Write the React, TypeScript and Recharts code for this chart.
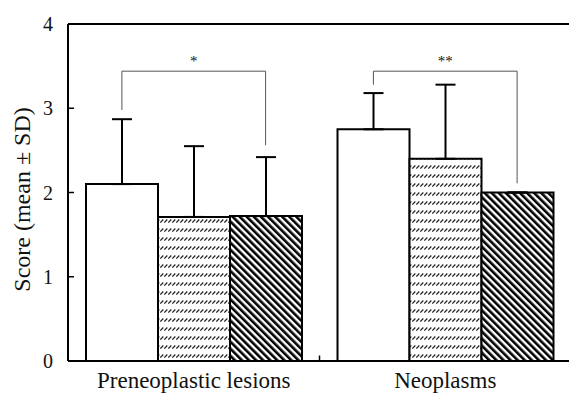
import React from 'react';
import { BarChart, Bar, XAxis, YAxis, ErrorBar, ReferenceLine } from 'recharts';

const categories = ['Preneoplastic lesions', 'Neoplasms'];
const groupPos = [0.5, 1.5];
const controlMean = [2.1, 2.75];
const controlSd = [0.77, 0.43];
const midMean = [1.71, 2.4];
const midSd = [0.84, 0.88];
const highMean = [1.72, 2.0];
const highSd = [0.7, 0];
const yTicks = [0, 1, 2, 3, 4];

// significance brackets, x on a 0..2 numeric axis (one unit per group)
const bracketLeft = [0.2143, 1.2143];
const bracketRight = [0.7857, 1.7857];
const bracketTop = [3.44, 3.44];
const leftFoot = [2.98, 3.28];
const rightFoot = [2.56, 2.11];
const stars = ['*', '**'];

const FONT = 'Liberation Serif, Times New Roman, serif';

const data = categories.map((name, i) => ({
  name,
  pos: groupPos[i],
  control: controlMean[i],
  controlErr: [0, controlSd[i]],
  mid: midMean[i],
  midErr: [0, midSd[i]],
  high: highMean[i],
  highErr: [0, highSd[i]],
}));

const YTick = (props: any) => {
  const { x, y, payload } = props;
  const axisX = x + 15;
  return (
    <g>
      {payload.value > 0 && payload.value < 4 && (
        <line x1={axisX} x2={axisX + 6} y1={y} y2={y} stroke="#000" strokeWidth={1.5} />
      )}
      <text x={x} y={y} textAnchor="end" dominantBaseline="central" style={{ fontFamily: FONT }} fontSize={20} fill="#111">
        {payload.value}
      </text>
    </g>
  );
};

const XTick = (props: any) => {
  const { x, y, payload } = props;
  return (
    <text x={x} y={y + 25} textAnchor="middle" style={{ fontFamily: FONT }} fontSize={23} fill="#111">
      {payload.value}
    </text>
  );
};

const YLabel = (props: any) => {
  const { viewBox } = props;
  const cx = 22;
  const cy = viewBox.y + viewBox.height / 2 + 7;
  return (
    <text
      x={cx}
      y={cy}
      transform={`rotate(-90, ${cx}, ${cy})`}
      textAnchor="middle"
      dominantBaseline="central"
      style={{ fontFamily: FONT }}
      fontSize={24}
      fill="#111"
    >
      Score (mean ± SD)
    </text>
  );
};

const App: React.FC = () => {
  return (
    <div style={{ position: 'absolute', left: 0, top: 0, width: 569, height: 393, overflow: 'hidden', background: '#fff' }}>
      <BarChart
        width={579}
        height={393}
        data={data}
        margin={{ top: 24, right: 8, bottom: 0, left: 0 }}
        barCategoryGap={18}
        barGap={0}
      >
        <defs>
          <pattern id="dashRows" width="4" height="9" patternUnits="userSpaceOnUse">
            <rect width="4" height="9" fill="#fff" />
            <path d="M0.3 6.5 L3.3 3.5" stroke="#222" strokeWidth={1.2} />
          </pattern>
          <pattern id="diag" width="5" height="5" patternUnits="userSpaceOnUse" patternTransform="rotate(-45)">
            <rect width="5" height="5" fill="#fff" />
            <rect width="2.6" height="5" fill="#000" />
          </pattern>
        </defs>
        <XAxis
          dataKey="name"
          height={32}
          axisLine={{ stroke: '#000', strokeWidth: 2 }}
          tickLine={false}
          tickSize={0}
          tick={<XTick />}
        />
        <XAxis xAxisId="num" dataKey="pos" type="number" domain={[0, 2]} ticks={[0, 1, 2]} hide allowDataOverflow />
        <YAxis
          width={68}
          domain={[0, 4]}
          ticks={yTicks}
          axisLine={{ stroke: '#000', strokeWidth: 2 }}
          tickLine={false}
          tickMargin={9}
          tick={<YTick />}
          label={<YLabel />}
        />
        <ReferenceLine y={4} stroke="#000" strokeWidth={2} />
        <Bar dataKey="control" fill="#fff" stroke="#000" strokeWidth={2} isAnimationActive={false}>
          <ErrorBar dataKey="controlErr" width={10} stroke="#000" strokeWidth={2} />
        </Bar>
        <Bar dataKey="mid" fill="url(#dashRows)" stroke="#000" strokeWidth={2} isAnimationActive={false}>
          <ErrorBar dataKey="midErr" width={10} stroke="#000" strokeWidth={2} />
        </Bar>
        <Bar dataKey="high" fill="url(#diag)" stroke="#000" strokeWidth={2} isAnimationActive={false}>
          <ErrorBar dataKey="highErr" width={10} stroke="#000" strokeWidth={2} />
        </Bar>
        <ReferenceLine
          xAxisId="num"
          segment={[{ x: 1, y: 0 }, { x: 1, y: 0.065 }]}
          stroke="#000"
          strokeWidth={1.5}
        />
        {categories.map((c, i) => (
          <ReferenceLine
            key={`top-${c}`}
            xAxisId="num"
            segment={[{ x: bracketLeft[i], y: bracketTop[i] }, { x: bracketRight[i], y: bracketTop[i] }]}
            stroke="#555"
            strokeWidth={1}
            label={{ value: stars[i], position: 'top', offset: 5, fontSize: 15, fill: '#111', style: { fontFamily: FONT } }}
          />
        ))}
        {categories.map((c, i) => (
          <ReferenceLine
            key={`l-${c}`}
            xAxisId="num"
            segment={[{ x: bracketLeft[i], y: leftFoot[i] }, { x: bracketLeft[i], y: bracketTop[i] }]}
            stroke="#555"
            strokeWidth={1}
          />
        ))}
        {categories.map((c, i) => (
          <ReferenceLine
            key={`r-${c}`}
            xAxisId="num"
            segment={[{ x: bracketRight[i], y: rightFoot[i] }, { x: bracketRight[i], y: bracketTop[i] }]}
            stroke="#555"
            strokeWidth={1}
          />
        ))}
      </BarChart>
    </div>
  );
};

export default App;
